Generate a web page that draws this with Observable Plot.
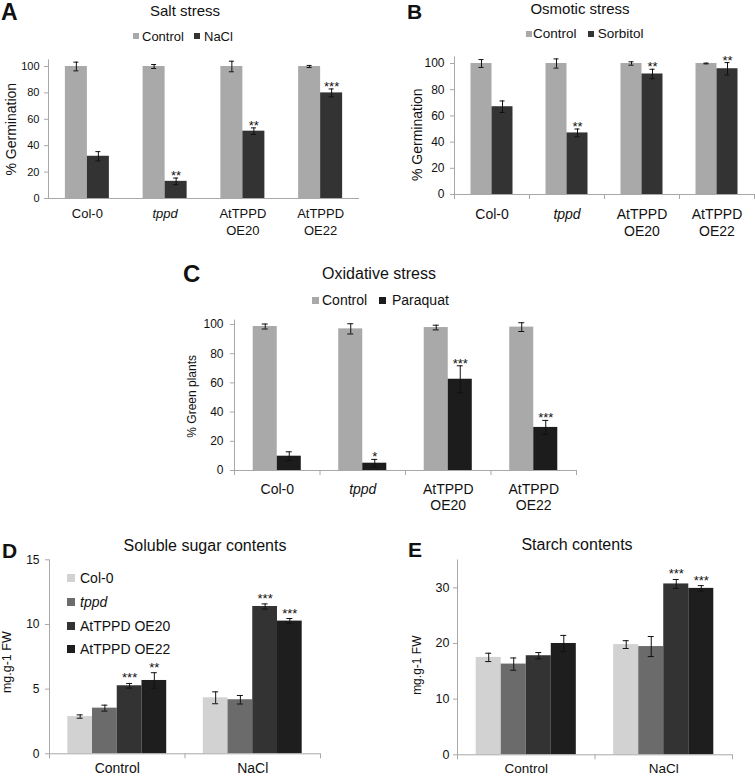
<!DOCTYPE html>
<html><head><meta charset="utf-8">
<script src="https://cdn.jsdelivr.net/npm/d3@7"></script>
<script src="https://cdn.jsdelivr.net/npm/@observablehq/plot@0.6"></script>
<style>
body{margin:0;background:#fff;}
#page{position:relative;width:755px;height:776px;overflow:hidden;font-family:"Liberation Sans",Arial,Helvetica,sans-serif;color:#111;background:#fff;}
.abs{position:absolute;white-space:nowrap;line-height:1;}
.sq{position:absolute;}
.panel{position:absolute;}
.panel svg{display:block;overflow:visible;}
</style></head><body><div id="page"></div>
<script>
// ---------------- data ----------------
const stressGroups = ["Col-0", "tppd", "AtTPPD\nOE20", "AtTPPD\nOE22"];

// A – salt stress (% germination)
const saltSeries = ["Control", "NaCl"];
const saltControl = [100, 100, 100, 100];
const saltControlErr = [3.3, 1.5, 4.0, 0.8];
const saltNaCl = [32, 13, 51, 80];
const saltNaClErr = [3.5, 2.5, 2.5, 3.0];
const saltStars = ["", "**", "**", "***"];

// B – osmotic stress (% germination)
const osmSeries = ["Control", "Sorbitol"];
const osmControl = [100, 100, 100, 100];
const osmControlErr = [3.0, 3.5, 1.3, 0.3];
const osmSorbitol = [67, 47, 92, 96];
const osmSorbitolErr = [4.4, 3.0, 3.6, 4.7];
const osmStars = ["", "**", "**", "**"];

// C – oxidative stress (% green plants)
const oxSeries = ["Control", "Paraquat"];
const oxControl = [98.6, 97, 97.9, 98.2];
const oxControlErr = [1.7, 3.5, 1.6, 3.0];
const oxParaquat = [9.8, 5, 62.5, 29.5];
const oxParaquatErr = [3.0, 2.6, 9.2, 4.8];
const oxStars = ["", "*", "***", "***"];

// D, E – per genotype, values for [Control, NaCl]
const conditions = ["Control", "NaCl"];
const genotypes = ["Col-0", "tppd", "AtTPPD OE20", "AtTPPD OE22"];

const sugarCol0 = [2.88, 4.33];
const sugarTppd = [3.53, 4.18];
const sugarOE20 = [5.26, 11.39];
const sugarOE22 = [5.67, 10.26];
const sugarCol0Err = [0.13, 0.46];
const sugarTppdErr = [0.23, 0.33];
const sugarOE20Err = [0.18, 0.2];
const sugarOE22Err = [0.6, 0.2];
const sugarOE20Stars = ["***", "***"];
const sugarOE22Stars = ["**", "***"];

const starchCol0 = [17.5, 19.8];
const starchTppd = [16.3, 19.45];
const starchOE20 = [17.8, 30.7];
const starchOE22 = [20.0, 29.9];
const starchCol0Err = [0.75, 0.7];
const starchTppdErr = [1.1, 1.8];
const starchOE20Err = [0.57, 0.8];
const starchOE22Err = [1.45, 0.5];
const starchOE20Stars = ["", "***"];
const starchOE22Stars = ["", "***"];
const noStars = ["", ""];
const noStars4 = ["", "", "", ""];

const pctTicks = [0, 20, 40, 60, 80, 100];
const sugarTicks = [0, 5, 10, 15];
const starchTicks = [0, 10, 20, 30];

// ---------------- styling ----------------
const FONT = '"Liberation Sans", Arial, Helvetica, sans-serif';
const axisColor = "#a8a8a8";
const ink = "#111";
const ctrlGray = "#a9a9a9";
const dark = "#333333";
const darker = "#1c1c1c";
const genoColors = ["#d2d2d2", "#6b6b6b", "#333333", "#1e1e1e"];

const page = document.getElementById("page");

function grouped(cfg) {
  const {groups, series, values, errors, stars, colors, barWidth, yDomain, yTicks, boundaryTicks,
    left, top, width, height, margins, tickFont, tickPadding, labelFont, labelDy, labelLineHeight,
    italicLabel, yLabel, yLabelFont, yLabelDx, yLabelDy, starFont, starDy, capPx} = cfg;
  const [mt, mr, mb, ml] = margins;
  const n = series.length;
  const rows = [];
  series.forEach((s, si) => groups.forEach((g, gi) =>
    rows.push({g, gi, s, si, v: values[si][gi], e: errors[si][gi], star: stars[si][gi]})));
  const step = (width - ml - mr) / groups.length;
  const cap = capPx / step;
  const x1 = d => d.gi + 0.5 - n * barWidth / 2 + d.si * barWidth;
  const mid = d => x1(d) + barWidth / 2;
  const marks = [
    Plot.rectY(rows, {x1, x2: d => x1(d) + barWidth, y1: 0, y2: "v", fill: "s"}),
    Plot.ruleX([0], {stroke: axisColor}),
    Plot.ruleY([0], {stroke: axisColor}),
    Plot.ruleX(rows, {x: mid, y1: d => d.v - d.e, y2: d => d.v + d.e, stroke: ink}),
    Plot.ruleY(rows, {y: d => d.v + d.e, x1: d => mid(d) - cap, x2: d => mid(d) + cap, stroke: ink}),
    Plot.ruleY(rows, {y: d => d.v - d.e, x1: d => mid(d) - cap, x2: d => mid(d) + cap, stroke: ink}),
    Plot.text(rows.filter(d => d.star), {x: mid, y: d => d.v + d.e, text: "star", lineAnchor: "bottom",
      dy: starDy, fontSize: starFont, fill: ink}),
    Plot.axisY({ticks: yTicks, tickSize: 4, tickPadding, fontSize: tickFont, stroke: axisColor, fill: ink, label: null}),
    Plot.text(groups, {x: (d, i) => i + 0.5, text: d => d, frameAnchor: "bottom", lineAnchor: "top",
      dy: labelDy, fontSize: labelFont, lineHeight: labelLineHeight, fill: ink,
      filter: d => d !== italicLabel}),
    Plot.text(groups, {x: (d, i) => i + 0.5, text: d => d, frameAnchor: "bottom", lineAnchor: "top",
      dy: labelDy, fontSize: labelFont, lineHeight: labelLineHeight, fill: ink, fontStyle: "italic",
      filter: d => d === italicLabel}),
    Plot.text([yLabel], {text: d => d, frameAnchor: "left", textAnchor: "middle", lineAnchor: "middle",
      rotate: -90, dx: yLabelDx, dy: yLabelDy, fontSize: yLabelFont, fill: ink})
  ];
  if (boundaryTicks) marks.push(Plot.axisX({ticks: d3.range(groups.length + 1), tickSize: 5,
    tickFormat: () => "", stroke: axisColor, label: null}));
  const svg = Plot.plot({
    width, height, marginTop: mt, marginRight: mr, marginBottom: mb, marginLeft: ml,
    style: {fontFamily: FONT, background: "transparent", overflow: "visible", color: ink},
    x: {type: "linear", domain: [0, groups.length], axis: boundaryTicks ? undefined : null},
    y: {domain: yDomain},
    color: {domain: series, range: colors},
    marks
  });
  const div = document.createElement("div");
  div.className = "panel";
  div.style.left = left + "px";
  div.style.top = top + "px";
  div.style.width = width + "px";
  div.appendChild(svg);
  page.appendChild(div);
}

function txt(s, x, capCenterY, size, opts = {}) {
  const el = document.createElement("div");
  el.className = "abs";
  el.textContent = s;
  el.style.fontSize = size + "px";
  el.style.top = (capCenterY - 0.49 * size) + "px";
  el.style.left = x + "px";
  if (opts.center) el.style.transform = "translateX(-50%)";
  if (opts.bold) el.style.fontWeight = "bold";
  if (opts.italic) el.style.fontStyle = "italic";
  page.appendChild(el);
  return el;
}
function square(x, y, size, color) {
  const el = document.createElement("div");
  el.className = "sq";
  Object.assign(el.style, {left: x + "px", top: y + "px", width: size + "px", height: size + "px", background: color});
  page.appendChild(el);
}

// ---------------- Panel A ----------------
txt("A", 1, 12, 23, {bold: true});
txt("Salt stress", 185, 10, 15, {center: true});
square(133, 33, 6, ctrlGray); txt(saltSeries[0], 142, 36.5, 13);
square(194, 33, 6, dark); txt(saltSeries[1], 204, 36.5, 13);
grouped({groups: stressGroups, series: saltSeries, values: [saltControl, saltNaCl], errors: [saltControlErr, saltNaClErr],
  stars: [noStars4, saltStars], colors: [ctrlGray, dark], barWidth: 0.283, yDomain: [0, 105], yTicks: pctTicks,
  boundaryTicks: false, left: 0, top: 50, width: 375, height: 190, margins: [9.4, 16, 42, 48],
  tickFont: 11, tickPadding: 5, labelFont: 13, labelDy: 7, labelLineHeight: 1.33, italicLabel: "tppd",
  yLabel: "% Germination", yLabelFont: 14, yLabelDx: -37, yLabelDy: 0, starFont: 13, starDy: 2, capPx: 2.5});

// ---------------- Panel B ----------------
txt("B", 407, 11.5, 21, {bold: true});
txt("Osmotic stress", 580, 8.7, 15, {center: true});
square(526, 31, 6, ctrlGray); txt(osmSeries[0], 533, 33.8, 13.5);
square(588, 31, 6, dark); txt(osmSeries[1], 597.7, 33.8, 13.5);
grouped({groups: stressGroups, series: osmSeries, values: [osmControl, osmSorbitol], errors: [osmControlErr, osmSorbitolErr],
  stars: [noStars4, osmStars], colors: [ctrlGray, dark], barWidth: 0.28, yDomain: [0, 105], yTicks: pctTicks,
  boundaryTicks: true, left: 400, top: 45, width: 355, height: 195, margins: [11.45, 1, 46, 54],
  tickFont: 12, tickPadding: 6, labelFont: 14, labelDy: 11.7, labelLineHeight: 1.26, italicLabel: "tppd",
  yLabel: "% Germination", yLabelFont: 14, yLabelDx: -37, yLabelDy: 9, starFont: 13, starDy: 2, capPx: 2.5});

// ---------------- Panel C ----------------
txt("C", 183, 273.5, 24, {bold: true});
txt("Oxidative stress", 379, 273.5, 16, {center: true});
square(312, 297, 7, ctrlGray); txt(oxSeries[0], 322, 300, 14);
square(379, 297, 7, darker); txt(oxSeries[1], 392, 300, 14);
grouped({groups: stressGroups, series: oxSeries, values: [oxControl, oxParaquat], errors: [oxControlErr, oxParaquatErr],
  stars: [noStars4, oxStars], colors: [ctrlGray, darker], barWidth: 0.281, yDomain: [0, 103], yTicks: pctTicks,
  boundaryTicks: true, left: 180, top: 305, width: 400, height: 215, margins: [14.6, 4, 50, 54],
  tickFont: 12, tickPadding: 7, labelFont: 14, labelDy: 12.7, labelLineHeight: 1.12, italicLabel: "tppd",
  yLabel: "% Green plants", yLabelFont: 12, yLabelDx: -42, yLabelDy: 1, starFont: 13, starDy: 2, capPx: 3});

// ---------------- Panel D ----------------
txt("D", 2, 550, 21, {bold: true});
txt("Soluble sugar contents", 205, 546, 16, {center: true});
[577.7, 601.7, 625.7, 648.5].forEach((cy, i) => {
  square(67, cy - 4, 8, genoColors[i]);
  txt(genotypes[i], 80, cy, 14, {italic: genotypes[i] === "tppd"});
});
grouped({groups: conditions, series: genotypes, values: [sugarCol0, sugarTppd, sugarOE20, sugarOE22],
  errors: [sugarCol0Err, sugarTppdErr, sugarOE20Err, sugarOE22Err], stars: [noStars, noStars, sugarOE20Stars, sugarOE22Stars],
  colors: genoColors, barWidth: 0.1825, yDomain: [0, 15], yTicks: sugarTicks,
  boundaryTicks: true, left: 0, top: 545, width: 330, height: 231, margins: [14.3, 10, 22.7, 49],
  tickFont: 12, tickPadding: 6, labelFont: 14, labelDy: 9.5, labelLineHeight: 1, italicLabel: null,
  yLabel: "mg.g-1 FW", yLabelFont: 12.5, yLabelDx: -42.5, yLabelDy: 5.4, starFont: 13, starDy: -1, capPx: 3});

// ---------------- Panel E ----------------
txt("E", 408, 549.5, 21, {bold: true});
txt("Starch contents", 577, 545, 16, {center: true});
grouped({groups: conditions, series: genotypes, values: [starchCol0, starchTppd, starchOE20, starchOE22],
  errors: [starchCol0Err, starchTppdErr, starchOE20Err, starchOE22Err], stars: [noStars, noStars, starchOE20Stars, starchOE22Stars],
  colors: genoColors, barWidth: 0.182, yDomain: [0, 35], yTicks: starchTicks,
  boundaryTicks: true, left: 400, top: 545, width: 340, height: 231, margins: [14.5, 8, 21.7, 57],
  tickFont: 12.5, tickPadding: 4, labelFont: 13.5, labelDy: 8.5, labelLineHeight: 1, italicLabel: null,
  yLabel: "mg.g-1 FW", yLabelFont: 12, yLabelDx: -40, yLabelDy: 7.8, starFont: 13, starDy: -1, capPx: 3});
</script></body></html>
